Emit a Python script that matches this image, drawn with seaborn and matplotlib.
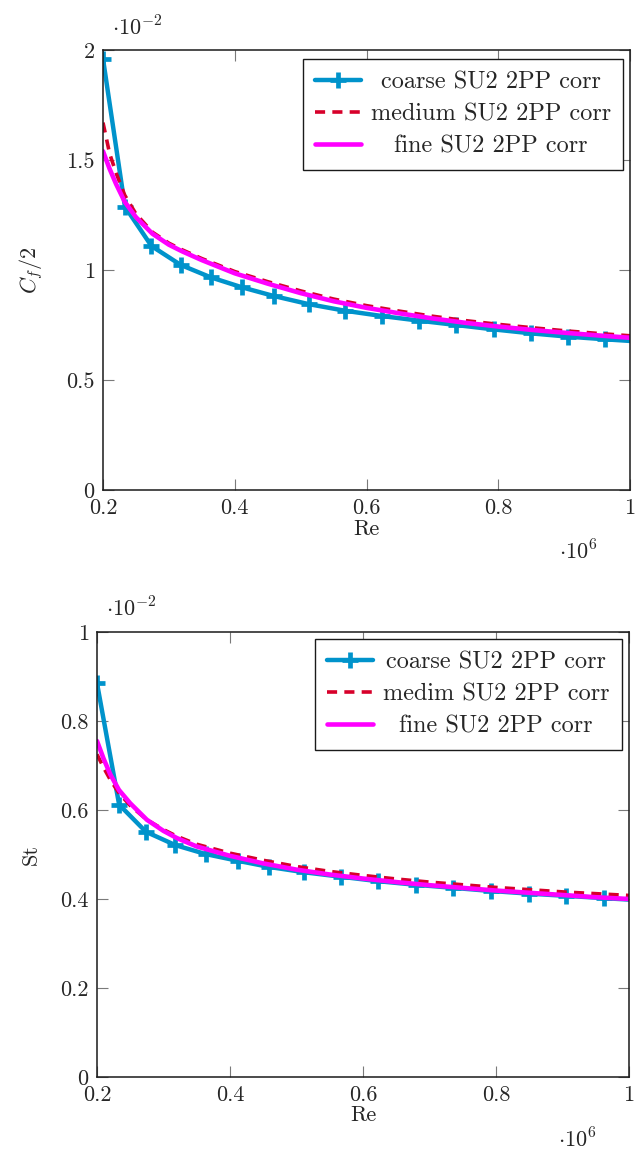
import matplotlib
matplotlib.use("Agg")
import matplotlib.pyplot as plt
import seaborn as sns
from matplotlib.ticker import FixedLocator, FuncFormatter

# Reynolds number (x 10^6)
re_coarse = [0.200, 0.2333, 0.2736, 0.318, 0.3633, 0.4113, 0.459, 0.512, 0.567,
             0.623, 0.679, 0.736, 0.793, 0.850, 0.906, 0.962, 1.018]
re_fine = [0.200, 0.210, 0.220, 0.233, 0.250, 0.275, 0.300, 0.320, 0.350, 0.400,
           0.450, 0.500, 0.550, 0.600, 0.650, 0.700, 0.750, 0.800, 0.850, 0.900,
           0.950, 1.000]

# Skin friction Cf/2 (x 10^-2)
cf_coarse = [1.96, 1.288, 1.109, 1.023, 0.967, 0.921, 0.882, 0.845, 0.815,
             0.791, 0.770, 0.750, 0.730, 0.712, 0.697, 0.685, 0.674]
cf_medium = [1.67, 1.53, 1.44, 1.34, 1.255, 1.172, 1.122, 1.092, 1.052, 0.993,
             0.947, 0.905, 0.868, 0.838, 0.813, 0.790, 0.770, 0.753, 0.738,
             0.724, 0.712, 0.701]
cf_fine = [1.54, 1.46, 1.39, 1.31, 1.24, 1.165, 1.115, 1.085, 1.045, 0.985,
           0.938, 0.895, 0.858, 0.828, 0.803, 0.780, 0.760, 0.743, 0.728,
           0.715, 0.703, 0.692]

# Stanton number St (x 10^-2)
st_coarse = [0.885, 0.612, 0.551, 0.521, 0.501, 0.486, 0.472, 0.460, 0.450,
             0.440, 0.432, 0.425, 0.418, 0.412, 0.407, 0.402, 0.397]
st_medium = [0.725, 0.695, 0.668, 0.638, 0.610, 0.578, 0.556, 0.541, 0.523,
             0.503, 0.487, 0.473, 0.462, 0.453, 0.445, 0.438, 0.432, 0.426,
             0.421, 0.416, 0.412, 0.408]
st_fine = [0.755, 0.715, 0.680, 0.645, 0.615, 0.578, 0.553, 0.537, 0.518,
           0.497, 0.480, 0.466, 0.455, 0.446, 0.438, 0.431, 0.425, 0.419,
           0.414, 0.409, 0.404, 0.400]

x_ticks = [0.2, 0.4, 0.6, 0.8, 1.0]
cf_ticks = [0, 0.5, 1, 1.5, 2]
st_ticks = [0, 0.2, 0.4, 0.6, 0.8, 1.0]

labels_cf = ["coarse SU2 2PP corr", "medium SU2 2PP corr", "fine SU2 2PP corr"]
labels_st = ["coarse SU2 2PP corr", "medim SU2 2PP corr", "fine SU2 2PP corr"]

BLUE = "#0093CB"
RED = "#D7002A"
MAGENTA = "#FF00FF"

sns.set_style("ticks")
plt.rcParams["font.family"] = ["cmr10"]
plt.rcParams["mathtext.fontset"] = "cm"
plt.rcParams["axes.formatter.use_mathtext"] = True
plt.rcParams["axes.unicode_minus"] = False

FS = 16
LFS = 17.5

fig = plt.figure(figsize=(6.35, 11.5), dpi=100)
W, H = 635, 1150


def px_axes(left, top, right, bottom):
    return fig.add_axes([left / W, 1 - bottom / H, (right - left) / W, (bottom - top) / H])


ax1 = px_axes(103, 50, 630, 490)
ax2 = px_axes(97, 632, 629, 1077)


def draw(ax, yc, ym, yf, labels):
    sns.lineplot(x=re_coarse, y=yc, ax=ax, color=BLUE, lw=3.2, marker="+",
                 markersize=11.5, markeredgewidth=3.4, markeredgecolor=BLUE,
                 label=labels[0], estimator=None, sort=False, zorder=2)
    sns.lineplot(x=re_fine, y=ym, ax=ax, color=RED, lw=2.6, dashes=(2.8, 2.0),
                 label=labels[1], estimator=None, sort=False, zorder=2.1)
    sns.lineplot(x=re_fine, y=yf, ax=ax, color=MAGENTA, lw=3.3,
                 label=labels[2], estimator=None, sort=False, zorder=2.2)


def style(ax, yticks, ylim, ylabel):
    ax.set_xlim(0.2, 1.0)
    ax.set_ylim(*ylim)
    ax.xaxis.set_major_locator(FixedLocator(x_ticks))
    ax.yaxis.set_major_locator(FixedLocator(yticks))
    fmt = FuncFormatter(lambda v, p: f"{v:g}")
    ax.xaxis.set_major_formatter(fmt)
    ax.yaxis.set_major_formatter(fmt)
    ax.tick_params(direction="in", length=8, width=0.8, color="#7a7a7a",
                   top=True, right=True, labelsize=FS, pad=6)
    for s in ax.spines.values():
        s.set_linewidth(1.1)
        s.set_color("#1a1a1a")
    ax.set_xlabel("Re", fontsize=FS)
    ax.set_ylabel(ylabel, fontsize=FS)


def legend(ax, anchor):
    leg = ax.legend(loc="upper right", bbox_to_anchor=anchor, borderaxespad=0,
                    fontsize=LFS, frameon=True, fancybox=False, framealpha=1,
                    edgecolor="#1a1a1a", handlelength=1.9, handletextpad=0.4,
                    labelspacing=0.42, borderpad=0.5, numpoints=1)
    leg.get_frame().set_linewidth(1.0)
    return leg


draw(ax1, cf_coarse, cf_medium, cf_fine, labels_cf)
draw(ax2, st_coarse, st_medium, st_fine, labels_st)
style(ax1, cf_ticks, (0, 2), r"$C_f/2$")
style(ax2, st_ticks, (0, 1), "St")

leg1 = legend(ax1, (0.987, 0.9795))
leg2 = legend(ax2, (0.986, 0.9845))

ax1.xaxis.set_label_coords(0.5, -0.066)
ax2.xaxis.set_label_coords(0.5, -0.064)
ax1.yaxis.set_label_coords(-0.11, 0.5)
ax2.yaxis.set_label_coords(-0.105, 0.5)

for ax in (ax1, ax2):
    ax.text(0.017, 1.052, r"$\cdot 10^{-2}$", transform=ax.transAxes,
            ha="left", va="center", fontsize=FS)
    ax.text(0.902, -0.14, r"$\cdot 10^{6}$", transform=ax.transAxes,
            ha="center", va="center", fontsize=FS)

# centre the legend entries within their text column
fig.canvas.draw()
renderer = fig.canvas.get_renderer()
for leg in (leg1, leg2):
    texts = leg.get_texts()
    widths = [t.get_window_extent(renderer).width for t in texts]
    wmax = max(widths)
    for t, w in zip(texts, widths):
        t.set_x((wmax - w) / 2)

fig.savefig("out.png", dpi=100)
